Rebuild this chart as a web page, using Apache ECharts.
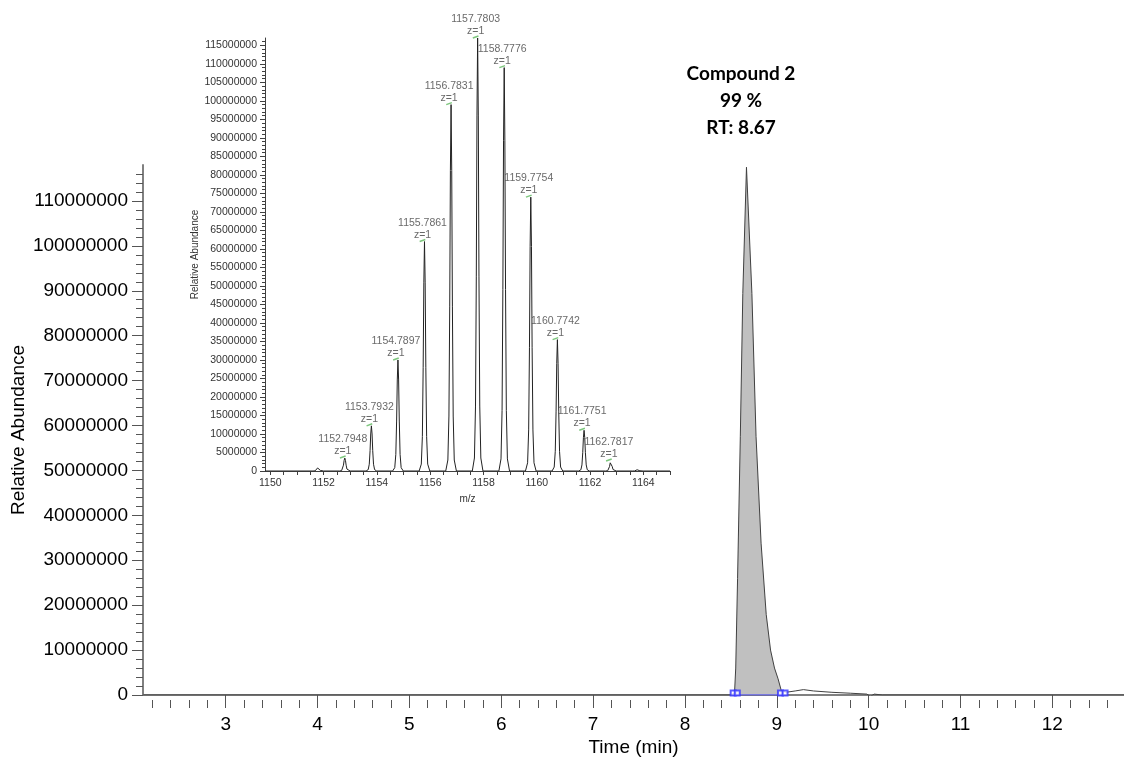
<!DOCTYPE html>
<html>
<head>
<meta charset="utf-8">
<script src="https://cdn.jsdelivr.net/npm/echarts@6/dist/echarts.min.js"></script>
<style>
  html, body { margin: 0; padding: 0; background: #fff; }
  #chart { width: 1124px; height: 758px; }
</style>
</head>
<body>
<div id="chart"></div>
<script>
// chromatogram trace (time in min, abundance)
const rtTime = [2.10, 8.50, 8.54, 8.553, 8.573, 8.603, 8.630, 8.670, 8.729, 8.774, 8.829, 8.885, 8.932, 8.975, 9.014, 9.050, 9.10, 9.20, 9.29, 9.40, 9.60, 9.80, 9.98, 10.02, 10.06, 10.15, 12.78]
const rtAbund = [0, 0, 500000, 6000000, 25900000, 57600000, 89400000, 117500000, 89400000, 57600000, 33800000, 17900000, 10000000, 6000000, 3600000, 900000, 600000, 900000, 1200000, 900000, 600000, 400000, 200000, -300000, 200000, 0, 0]
const peakStart = 8.54
const peakEnd = 9.05
// integration bracket markers
const bracketTime = [8.525, 8.57, 9.04, 9.09]

// inset mass spectrum
const mzPeak = [1151.80, 1152.7948, 1153.7932, 1154.7897, 1155.7861, 1156.7831, 1157.7803, 1158.7776, 1159.7754, 1160.7742, 1161.7751, 1162.7817, 1163.79]
const mzHeight = [1000000, 3500000, 12200000, 30000000, 62000000, 99000000, 117000000, 109000000, 74000000, 35500000, 11000000, 2700000, 400000]
const mzLabel = ['', '1152.7948', '1153.7932', '1154.7897', '1155.7861', '1156.7831', '1157.7803', '1158.7776', '1159.7754', '1160.7742', '1161.7751', '1162.7817', '']
const chargeLabel = 'z=1'
// profile shape of one isotope peak (offset in m/z, fraction of height)
const profOffset = [-0.2, -0.12, -0.08, -0.05, -0.025, 0, 0.025, 0.05, 0.08, 0.12, 0.2]
const profFrac = [0, 0.03, 0.15, 0.45, 0.82, 1, 0.82, 0.45, 0.15, 0.03, 0]

// tick labels
const timeTicks = [3, 4, 5, 6, 7, 8, 9, 10, 11, 12]
const abundTicks = [0, 10000000, 20000000, 30000000, 40000000, 50000000, 60000000, 70000000, 80000000, 90000000, 100000000, 110000000]
const mzTicks = [1150, 1152, 1154, 1156, 1158, 1160, 1162, 1164]
const insetAbundTicks = []
for (let v = 0; v <= 115000000; v += 5000000) insetAbundTicks.push(v)

// minor tick positions
const timeMinor = []
for (let i = 11; i <= 63; i++) timeMinor.push(+(i * 0.2).toFixed(1))
const abundMinor = []
for (let v = 0; v <= 116000000; v += 2000000) abundMinor.push(v)
const mzMinor = []
for (let v = 1150; v <= 1165; v += 0.5) mzMinor.push(v)
const insetAbundMinor = []
for (let v = 0; v <= 116000000; v += 1000000) insetAbundMinor.push(v)

const font = 'Liberation Sans, Arial, sans-serif'

const traceData = rtTime.map((t, i) => [t, rtAbund[i]])
const fillData = traceData.filter(d => d[0] >= peakStart && d[0] <= peakEnd)

const specData = [[1149.8, 0]]
mzPeak.forEach((m, i) => {
  profOffset.forEach((o, j) => specData.push([m + o, mzHeight[i] * profFrac[j]]))
})
specData.push([1165, 0])

const labelData = []
mzPeak.forEach((m, i) => {
  if (mzLabel[i]) labelData.push({ name: mzLabel[i], value: [m, mzHeight[i]] })
})

const myChart = echarts.init(document.getElementById('chart'))

const plain = v => String(v)

myChart.setOption({
  animation: false,
  backgroundColor: '#fff',
  title: {
    text: 'Compound 2\n99 %\nRT: 8.67',
    left: 741,
    top: 60,
    textAlign: 'center',
    padding: 0,
    textStyle: { fontFamily: 'Lato, sans-serif', fontWeight: 'bold', fontSize: 19, lineHeight: 27, color: '#000' }
  },
  grid: [
    { left: 143, right: 0, top: 165, bottom: 63, outerBoundsMode: 'none' },
    { left: 265, right: 454, top: 38, bottom: 287, outerBoundsMode: 'none' }
  ],
  xAxis: [
    {
      gridIndex: 0, type: 'value', min: 2.1, max: 12.78, position: 'bottom',
      axisLine: { lineStyle: { color: '#808080', width: 2 } },
      axisTick: { show: false }, axisLabel: { show: false }, splitLine: { show: false }
    },
    {
      gridIndex: 0, type: 'value', min: 2.1, max: 12.78, position: 'bottom', offset: 5,
      axisLine: { lineStyle: { color: '#808080', width: 1 } },
      axisTick: { customValues: timeTicks, length: 12, lineStyle: { color: '#555' } },
      axisLabel: { customValues: timeTicks, formatter: plain, margin: 15, fontSize: 19, color: '#000', fontFamily: font },
      splitLine: { show: false },
      name: 'Time (min)', nameLocation: 'middle', nameGap: 38, nameMoveOverlap: false,
      nameTextStyle: { fontSize: 19, color: '#000', fontFamily: font }
    },
    {
      gridIndex: 0, type: 'value', min: 2.1, max: 12.78, position: 'bottom', offset: 5,
      axisLine: { show: false },
      axisTick: { customValues: timeMinor, length: 8, lineStyle: { color: '#555' } },
      axisLabel: { show: false }, splitLine: { show: false }
    },
    {
      gridIndex: 1, type: 'value', min: 1149.8, max: 1165, position: 'bottom',
      axisLine: { lineStyle: { color: '#404040', width: 1 } },
      axisTick: { customValues: mzMinor, length: 4, lineStyle: { color: '#404040' } },
      axisLabel: { customValues: mzTicks, formatter: plain, margin: 7, fontSize: 10.5, color: '#333', fontFamily: font },
      splitLine: { show: false },
      name: 'm/z', nameLocation: 'middle', nameGap: 23, nameMoveOverlap: false,
      nameTextStyle: { fontSize: 10, color: '#333', fontFamily: font }
    }
  ],
  yAxis: [
    {
      gridIndex: 0, type: 'value', min: 0, max: 118000000, position: 'left',
      axisLine: { show: true, lineStyle: { color: '#808080', width: 2 } },
      axisTick: { show: true, customValues: abundTicks, length: 11, lineStyle: { color: '#555' } },
      axisLabel: { customValues: abundTicks, formatter: plain, margin: 15, fontSize: 19, color: '#000', fontFamily: font },
      splitLine: { show: false },
      name: 'Relative Abundance', nameLocation: 'middle', nameGap: 115, nameMoveOverlap: false,
      nameTextStyle: { fontSize: 19, color: '#000', fontFamily: font }
    },
    {
      gridIndex: 0, type: 'value', min: 0, max: 118000000, position: 'left',
      axisLine: { show: false },
      axisTick: { show: true, customValues: abundMinor, length: 7, lineStyle: { color: '#555' } },
      axisLabel: { show: false }, splitLine: { show: false }
    },
    {
      gridIndex: 1, type: 'value', min: 0, max: 117000000, position: 'left',
      axisLine: { show: true, lineStyle: { color: '#404040', width: 1 } },
      axisTick: { show: true, customValues: insetAbundTicks, length: 5, lineStyle: { color: '#404040' } },
      axisLabel: { customValues: insetAbundTicks, formatter: plain, margin: 8, fontSize: 10.5, color: '#333', fontFamily: font },
      splitLine: { show: false },
      name: 'Relative Abundance', nameLocation: 'middle', nameGap: 65, nameMoveOverlap: false,
      nameTextStyle: { fontSize: 10, color: '#333', fontFamily: font }
    },
    {
      gridIndex: 1, type: 'value', min: 0, max: 117000000, position: 'left',
      axisLine: { show: false },
      axisTick: { show: true, customValues: insetAbundMinor, length: 3, lineStyle: { color: '#404040' } },
      axisLabel: { show: false }, splitLine: { show: false }
    }
  ],
  series: [
    {
      type: 'line', xAxisIndex: 0, yAxisIndex: 0, data: fillData,
      symbol: 'none', lineStyle: { width: 0 },
      areaStyle: { color: '#c0c0c0', opacity: 1 }, z: 1
    },
    {
      type: 'line', xAxisIndex: 0, yAxisIndex: 0, data: traceData,
      symbol: 'none', lineStyle: { color: '#404040', width: 1 }, z: 3
    },
    {
      type: 'line', xAxisIndex: 0, yAxisIndex: 0,
      data: [[bracketTime[0], 0], [bracketTime[bracketTime.length - 1], 0]],
      symbol: 'none', lineStyle: { color: '#3333ff', width: 1 }, z: 4
    },
    {
      type: 'scatter', xAxisIndex: 0, yAxisIndex: 0,
      data: bracketTime.map(t => [t, 0]),
      symbol: 'emptyRect', symbolSize: [5, 5], symbolOffset: [0, -2],
      itemStyle: { color: '#3333ff', borderColor: '#3333ff', borderWidth: 1 }, z: 5
    },
    {
      type: 'line', xAxisIndex: 3, yAxisIndex: 2, data: specData,
      symbol: 'none', lineStyle: { color: '#222', width: 1 }, z: 3
    },
    {
      type: 'scatter', xAxisIndex: 3, yAxisIndex: 2, data: labelData,
      symbol: 'rect', symbolSize: [6, 1.5], symbolRotate: 20, symbolOffset: [-2, -1],
      itemStyle: { color: '#5cb85c' },
      label: {
        show: true, position: 'top', distance: 2, offset: [0, 4],
        formatter: p => p.name + '\n' + chargeLabel,
        fontSize: 10.5, lineHeight: 12, color: '#444', fontFamily: font
      },
      z: 5
    }
  ]
})
</script>
</body>
</html>
